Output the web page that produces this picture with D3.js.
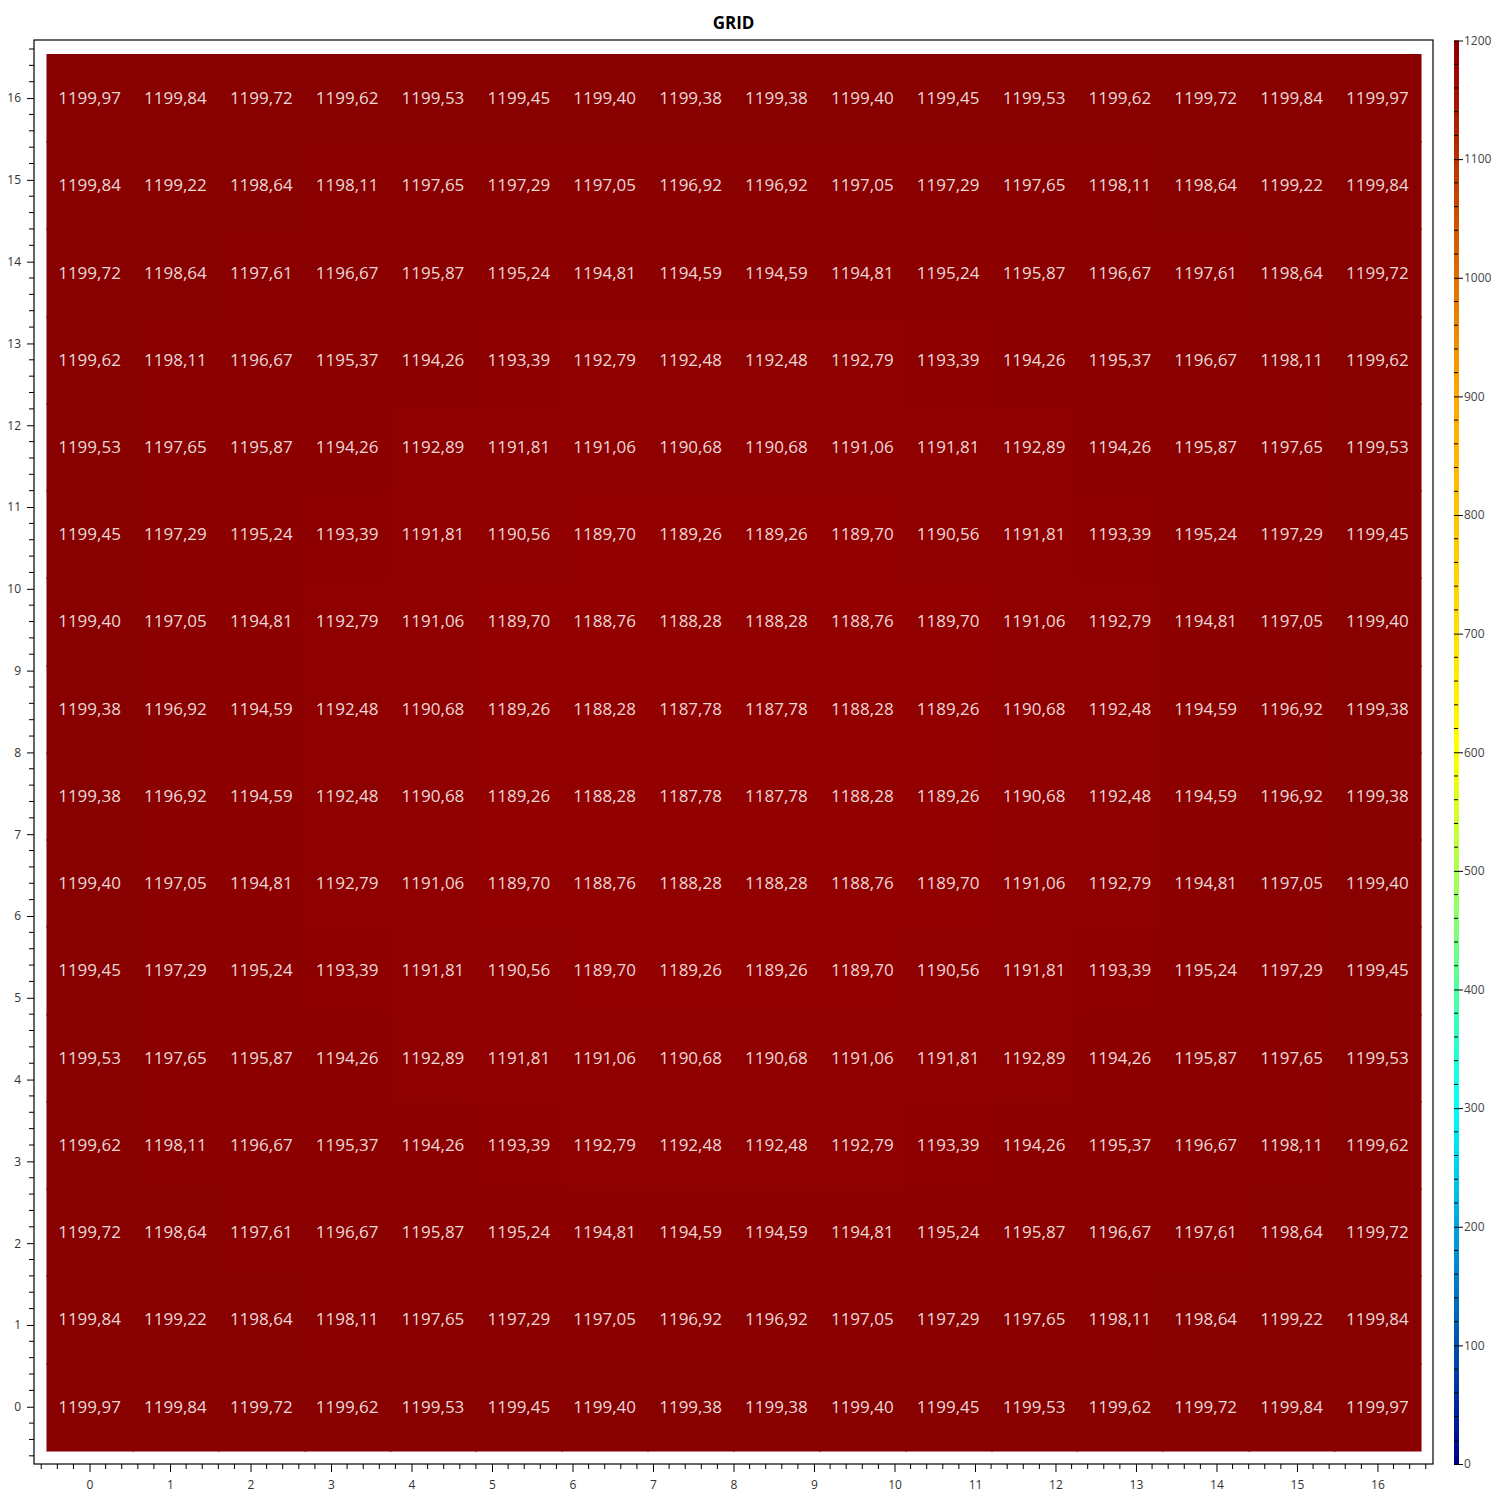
<!DOCTYPE html>
<html>
<head>
<meta charset="utf-8">
<script src="https://cdn.jsdelivr.net/npm/d3@7"></script>
<style>
  body { margin: 0; background: #fff; }
  text { font-family: "Segoe UI", "Open Sans", sans-serif; }
</style>
</head>
<body>
<svg id="chart" width="1500" height="1500"></svg>
<script>
// grid values, row 0 = bottom (y = 0), row 15 = top
var gridRows = [
  [1199.97, 1199.84, 1199.72, 1199.62, 1199.53, 1199.45, 1199.40, 1199.38, 1199.38, 1199.40, 1199.45, 1199.53, 1199.62, 1199.72, 1199.84, 1199.97],
  [1199.84, 1199.22, 1198.64, 1198.11, 1197.65, 1197.29, 1197.05, 1196.92, 1196.92, 1197.05, 1197.29, 1197.65, 1198.11, 1198.64, 1199.22, 1199.84],
  [1199.72, 1198.64, 1197.61, 1196.67, 1195.87, 1195.24, 1194.81, 1194.59, 1194.59, 1194.81, 1195.24, 1195.87, 1196.67, 1197.61, 1198.64, 1199.72],
  [1199.62, 1198.11, 1196.67, 1195.37, 1194.26, 1193.39, 1192.79, 1192.48, 1192.48, 1192.79, 1193.39, 1194.26, 1195.37, 1196.67, 1198.11, 1199.62],
  [1199.53, 1197.65, 1195.87, 1194.26, 1192.89, 1191.81, 1191.06, 1190.68, 1190.68, 1191.06, 1191.81, 1192.89, 1194.26, 1195.87, 1197.65, 1199.53],
  [1199.45, 1197.29, 1195.24, 1193.39, 1191.81, 1190.56, 1189.70, 1189.26, 1189.26, 1189.70, 1190.56, 1191.81, 1193.39, 1195.24, 1197.29, 1199.45],
  [1199.40, 1197.05, 1194.81, 1192.79, 1191.06, 1189.70, 1188.76, 1188.28, 1188.28, 1188.76, 1189.70, 1191.06, 1192.79, 1194.81, 1197.05, 1199.40],
  [1199.38, 1196.92, 1194.59, 1192.48, 1190.68, 1189.26, 1188.28, 1187.78, 1187.78, 1188.28, 1189.26, 1190.68, 1192.48, 1194.59, 1196.92, 1199.38],
  [1199.38, 1196.92, 1194.59, 1192.48, 1190.68, 1189.26, 1188.28, 1187.78, 1187.78, 1188.28, 1189.26, 1190.68, 1192.48, 1194.59, 1196.92, 1199.38],
  [1199.40, 1197.05, 1194.81, 1192.79, 1191.06, 1189.70, 1188.76, 1188.28, 1188.28, 1188.76, 1189.70, 1191.06, 1192.79, 1194.81, 1197.05, 1199.40],
  [1199.45, 1197.29, 1195.24, 1193.39, 1191.81, 1190.56, 1189.70, 1189.26, 1189.26, 1189.70, 1190.56, 1191.81, 1193.39, 1195.24, 1197.29, 1199.45],
  [1199.53, 1197.65, 1195.87, 1194.26, 1192.89, 1191.81, 1191.06, 1190.68, 1190.68, 1191.06, 1191.81, 1192.89, 1194.26, 1195.87, 1197.65, 1199.53],
  [1199.62, 1198.11, 1196.67, 1195.37, 1194.26, 1193.39, 1192.79, 1192.48, 1192.48, 1192.79, 1193.39, 1194.26, 1195.37, 1196.67, 1198.11, 1199.62],
  [1199.72, 1198.64, 1197.61, 1196.67, 1195.87, 1195.24, 1194.81, 1194.59, 1194.59, 1194.81, 1195.24, 1195.87, 1196.67, 1197.61, 1198.64, 1199.72],
  [1199.84, 1199.22, 1198.64, 1198.11, 1197.65, 1197.29, 1197.05, 1196.92, 1196.92, 1197.05, 1197.29, 1197.65, 1198.11, 1198.64, 1199.22, 1199.84],
  [1199.97, 1199.84, 1199.72, 1199.62, 1199.53, 1199.45, 1199.40, 1199.38, 1199.38, 1199.40, 1199.45, 1199.53, 1199.62, 1199.72, 1199.84, 1199.97]
];
var axisTicks = [0, 1, 2, 3, 4, 5, 6, 7, 8, 9, 10, 11, 12, 13, 14, 15, 16];
var colorStops = [0, 100, 200, 300, 400, 500, 600, 700, 800, 900, 1000, 1100, 1185, 1200];
var colorValues = ['#00008b', '#0050b0', '#00a4e0', '#00ffff', '#50ffa0', '#acff50', '#ffff00',
                   '#ffe000', '#ffc400', '#ffa800', '#e07000', '#b83200', '#960000', '#880000'];
var colorbarTicks = [0, 100, 200, 300, 400, 500, 600, 700, 800, 900, 1000, 1100, 1200];
var title = 'GRID';

// layout
var frame = {left: 34, top: 40, right: 1433, bottom: 1464};
var n = gridRows.length;
var step = 16 / (n - 1);

var svg = d3.select('#chart');

// scales
var x = d3.scaleLinear().domain([-0.69, 16.69]).range([frame.left, frame.right]);
var y = d3.scaleLinear().domain([-0.70, 16.71]).range([frame.bottom, frame.top]);
var color = d3.scaleLinear().domain(colorStops).range(colorValues).clamp(true);

// flatten cells
var cells = [];
gridRows.forEach(function(row, j) {
  row.forEach(function(v, i) {
    cells.push({i: i, j: j, value: v});
  });
});

// heatmap cells
svg.append('g')
  .attr('shape-rendering', 'crispEdges')
  .selectAll('rect')
  .data(cells)
  .enter()
  .append('rect')
    .attr('x', function(d) { return x(d.i * step - step / 2); })
    .attr('y', function(d) { return y(d.j * step + step / 2); })
    .attr('width', function(d) { return x(step) - x(0) + 1; })
    .attr('height', function(d) { return y(0) - y(step) + 1; })
    .attr('fill', function(d) { return color(d.value); })
    .attr('stroke', function(d) { return color(d.value); })
    .attr('stroke-width', 0.5);

// cell labels
var fmt = d3.format('.2f');
svg.append('g').selectAll('text')
  .data(cells)
  .enter()
  .append('text')
    .attr('x', function(d) { return x(d.i * step); })
    .attr('y', function(d) { return y(d.j * step); })
    .attr('dy', '0.35em')
    .attr('text-anchor', 'middle')
    .style('font-size', '17px')
    .style('fill', '#fff')
    .style('fill-opacity', 0.85)
    .text(function(d) { return fmt(d.value).replace('.', ','); });

// frame
svg.append('rect')
  .attr('x', frame.left)
  .attr('y', frame.top)
  .attr('width', frame.right - frame.left)
  .attr('height', frame.bottom - frame.top)
  .attr('fill', 'none')
  .attr('stroke', '#000')
  .attr('stroke-width', 1.2);

// minor ticks every 0.2
var minorX = d3.range(-3, 84).map(function(k) { return k * 0.2; }).filter(function(v) { return v >= -0.69 && v <= 16.69 && Math.abs(v - Math.round(v)) > 1e-6; });
var minorY = d3.range(-3, 84).map(function(k) { return k * 0.2; }).filter(function(v) { return v >= -0.70 && v <= 16.71 && Math.abs(v - Math.round(v)) > 1e-6; });

// axes
var xAxis = svg.append('g')
  .attr('transform', 'translate(0,' + frame.bottom + ')')
  .call(d3.axisBottom(x).tickValues(axisTicks).tickSize(8).tickPadding(8).tickFormat(d3.format('d')));
xAxis.append('g').selectAll('line')
  .data(minorX).enter().append('line')
    .attr('x1', function(d) { return x(d); })
    .attr('x2', function(d) { return x(d); })
    .attr('y1', 0).attr('y2', 5)
    .attr('stroke', '#000');

var yAxis = svg.append('g')
  .attr('transform', 'translate(' + frame.left + ',0)')
  .call(d3.axisLeft(y).tickValues(axisTicks).tickSize(7).tickPadding(6).tickFormat(d3.format('d')));
yAxis.append('g').selectAll('line')
  .data(minorY).enter().append('line')
    .attr('y1', function(d) { return y(d); })
    .attr('y2', function(d) { return y(d); })
    .attr('x1', 0).attr('x2', -5)
    .attr('stroke', '#000');

svg.selectAll('.domain').remove();
svg.selectAll('.tick text').style('font-size', '12px').style('fill', '#333');

// colorbar
var cb = {x: 1454, width: 5, top: 40.5, bottom: 1464};
var cy = d3.scaleLinear().domain([0, 1200]).range([cb.bottom, cb.top]);

var grad = svg.append('defs').append('linearGradient')
  .attr('id', 'cbgrad')
  .attr('x1', 0).attr('y1', 1).attr('x2', 0).attr('y2', 0);
grad.selectAll('stop')
  .data(colorStops).enter().append('stop')
    .attr('offset', function(d) { return d / 1200; })
    .attr('stop-color', function(d) { return color(d); });

svg.append('rect')
  .attr('x', cb.x)
  .attr('y', cb.top)
  .attr('width', cb.width)
  .attr('height', cb.bottom - cb.top)
  .attr('fill', 'url(#cbgrad)');

var cbMinor = d3.range(0, 61).map(function(k) { return k * 20; }).filter(function(v) { return v % 100 !== 0; });
svg.append('g').selectAll('line')
  .data(cbMinor).enter().append('line')
    .attr('x1', cb.x).attr('x2', cb.x + 4)
    .attr('y1', function(d) { return cy(d); })
    .attr('y2', function(d) { return cy(d); })
    .attr('stroke', '#000');

var cbAxis = svg.append('g')
  .attr('transform', 'translate(' + cb.x + ',0)')
  .call(d3.axisRight(cy).tickValues(colorbarTicks).tickSize(9).tickPadding(1).tickFormat(d3.format('d')));
cbAxis.select('.domain').remove();
cbAxis.selectAll('.tick text').style('font-size', '12px').style('fill', '#444');

// title
svg.append('text')
  .attr('x', (frame.left + frame.right) / 2)
  .attr('y', 29)
  .attr('text-anchor', 'middle')
  .style('font-size', '17px')
  .style('font-weight', 'bold')
  .text(title);
</script>
</body>
</html>
